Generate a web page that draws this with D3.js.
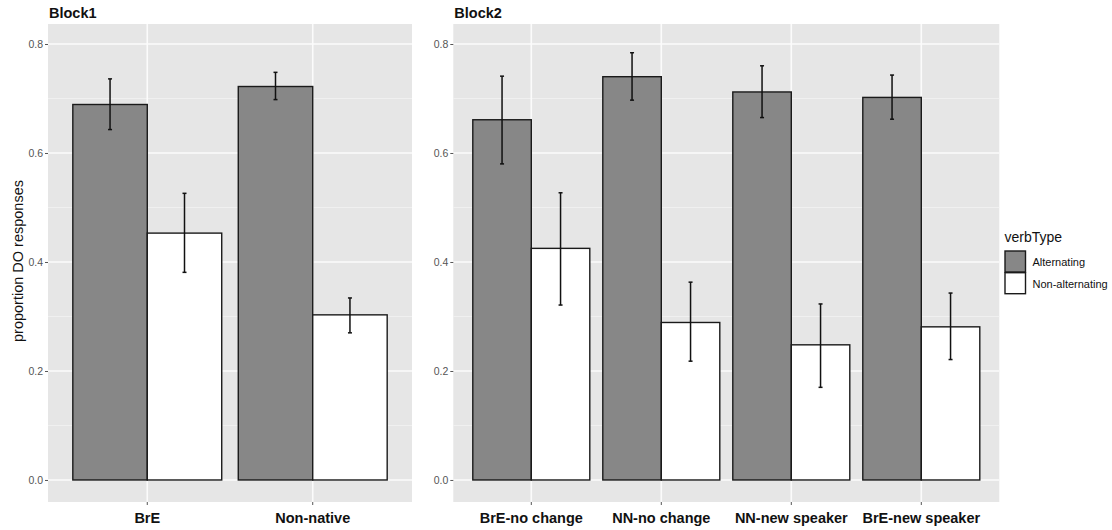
<!DOCTYPE html>
<html lang="en">
<head>
<meta charset="utf-8">
<title>proportion DO responses</title>
<script src="https://d3js.org/d3.v7.min.js"></script>
<style type="text/css">
    body { margin: 0; background: #fff; }
    svg { font-family: "Liberation Sans", Arial, sans-serif; display: block; }
    .tick-label { fill: #555; font-size: 10.5px; }
    .cat-label { fill: #111; font-size: 14.5px; font-weight: bold; }
    .panel-title { fill: #111; font-size: 14.5px; font-weight: bold; }
</style>
</head>
<body>
<script>

// data
let verbTypes = ["Alternating", "Non-alternating"];

let block1Cats = ["BrE", "Non-native"];
let block1Alt = [0.689, 0.722];
let block1AltLo = [0.643, 0.698];
let block1AltHi = [0.736, 0.748];
let block1Non = [0.453, 0.303];
let block1NonLo = [0.381, 0.270];
let block1NonHi = [0.526, 0.334];

let block2Cats = ["BrE-no change", "NN-no change", "NN-new speaker", "BrE-new speaker"];
let block2Alt = [0.661, 0.740, 0.712, 0.702];
let block2AltLo = [0.580, 0.697, 0.665, 0.662];
let block2AltHi = [0.741, 0.784, 0.760, 0.743];
let block2Non = [0.425, 0.289, 0.248, 0.281];
let block2NonLo = [0.321, 0.218, 0.170, 0.221];
let block2NonHi = [0.527, 0.363, 0.323, 0.343];

let yTicks = [0, 0.2, 0.4, 0.6, 0.8];
let yMinor = [0.1, 0.3, 0.5, 0.7];

let fills = { "Alternating": "#878787", "Non-alternating": "#ffffff" };

let W = 1112, H = 530;
let plotTop = 24, plotBottom = 502;

let svg = d3.select("body").append("svg")
    .attr("width", W)
    .attr("height", H);

// shared y scale
let yScale = d3.scaleLinear()
    .domain([-0.0404, 0.8367])
    .range([plotBottom, plotTop]);

function buildRows(cats, alt, altLo, altHi, non, nonLo, nonHi) {
    let rows = [];
    cats.forEach((c, i) => {
        rows.push({ cat: c, type: verbTypes[0], v: alt[i], lo: altLo[i], hi: altHi[i] });
        rows.push({ cat: c, type: verbTypes[1], v: non[i], lo: nonLo[i], hi: nonHi[i] });
    });
    return rows;
}

function drawPanel(x0, x1, title, cats, rows) {
    let g = svg.append("g");

    let xScale = d3.scaleBand()
        .domain(cats)
        .range([x0, x1])
        .paddingInner(0.1)
        .paddingOuter(0.15);

    let xInner = d3.scaleBand()
        .domain(verbTypes)
        .range([0, xScale.bandwidth()]);

    // background
    g.append("rect")
        .attr("x", x0).attr("y", plotTop)
        .attr("width", x1 - x0).attr("height", plotBottom - plotTop)
        .attr("fill", "#e6e6e6");

    // grid lines
    g.selectAll(".minor").data(yMinor).enter().append("line")
        .attr("x1", x0).attr("x2", x1)
        .attr("y1", d => yScale(d)).attr("y2", d => yScale(d))
        .attr("stroke", "#f2f2f2").attr("stroke-width", 0.8);
    g.selectAll(".major").data(yTicks).enter().append("line")
        .attr("x1", x0).attr("x2", x1)
        .attr("y1", d => yScale(d)).attr("y2", d => yScale(d))
        .attr("stroke", "#fbfbfb").attr("stroke-width", 1.6);
    g.selectAll(".vgrid").data(cats).enter().append("line")
        .attr("x1", d => xScale(d) + xScale.bandwidth() / 2)
        .attr("x2", d => xScale(d) + xScale.bandwidth() / 2)
        .attr("y1", plotTop).attr("y2", plotBottom)
        .attr("stroke", "#fbfbfb").attr("stroke-width", 1.6);

    // bars
    g.selectAll(".bar").data(rows).enter().append("rect")
        .attr("x", d => xScale(d.cat) + xInner(d.type))
        .attr("y", d => yScale(d.v))
        .attr("width", xInner.bandwidth())
        .attr("height", d => yScale(0) - yScale(d.v))
        .attr("fill", d => fills[d.type])
        .attr("stroke", "#1a1a1a")
        .attr("stroke-width", 1.4);

    // error bars
    let cx = d => xScale(d.cat) + xInner(d.type) + xInner.bandwidth() / 2;
    let eb = g.selectAll(".err").data(rows).enter().append("g")
        .attr("stroke", "#111").attr("stroke-width", 1.5);
    eb.append("line")
        .attr("x1", cx).attr("x2", cx)
        .attr("y1", d => yScale(d.lo)).attr("y2", d => yScale(d.hi));
    eb.append("line")
        .attr("x1", d => cx(d) - 2).attr("x2", d => cx(d) + 2)
        .attr("y1", d => yScale(d.lo)).attr("y2", d => yScale(d.lo));
    eb.append("line")
        .attr("x1", d => cx(d) - 2).attr("x2", d => cx(d) + 2)
        .attr("y1", d => yScale(d.hi)).attr("y2", d => yScale(d.hi));

    // y axis
    let yAxis = d3.axisLeft(yScale)
        .tickValues(yTicks)
        .tickFormat(d3.format(".1f"))
        .tickSize(3)
        .tickPadding(2);
    let ya = g.append("g")
        .attr("transform", "translate(" + x0 + ",0)")
        .call(yAxis);
    ya.select(".domain").remove();
    ya.selectAll(".tick line").attr("stroke", "#555");
    ya.selectAll(".tick text").attr("class", "tick-label").attr("font-family", null).attr("font-size", null);

    // x axis
    let xAxis = d3.axisBottom(xScale)
        .tickSize(3)
        .tickPadding(8);
    let xa = g.append("g")
        .attr("transform", "translate(0," + plotBottom + ")")
        .call(xAxis);
    xa.select(".domain").remove();
    xa.selectAll(".tick line").attr("stroke", "#555");
    xa.selectAll(".tick text").attr("class", "cat-label").attr("font-family", null).attr("font-size", null);

    // title
    g.append("text")
        .attr("class", "panel-title")
        .attr("x", x0 + 1)
        .attr("y", 18)
        .text(title);
}

drawPanel(48, 412, "Block1", block1Cats,
    buildRows(block1Cats, block1Alt, block1AltLo, block1AltHi, block1Non, block1NonLo, block1NonHi));
drawPanel(453.3, 999.3, "Block2", block2Cats,
    buildRows(block2Cats, block2Alt, block2AltLo, block2AltHi, block2Non, block2NonLo, block2NonHi));

// y axis title
svg.append("text")
    .attr("transform", "translate(23," + 261 + ") rotate(-90)")
    .attr("text-anchor", "middle")
    .attr("font-size", "14.5px")
    .attr("fill", "#111")
    .text("proportion DO responses");

// legend
let legend = svg.append("g").attr("transform", "translate(1004.5,0)");
legend.append("text")
    .attr("x", 0).attr("y", 242)
    .attr("font-size", "14px")
    .attr("fill", "#111")
    .text("verbType");
let keys = legend.selectAll(".key").data(verbTypes).enter().append("g")
    .attr("transform", (d, i) => "translate(0," + (251 + i * 21.7) + ")");
keys.append("rect")
    .attr("x", 0.5).attr("y", 0)
    .attr("width", 20.5).attr("height", 21)
    .attr("fill", d => fills[d])
    .attr("stroke", "#1a1a1a")
    .attr("stroke-width", 1.4);
keys.append("text")
    .attr("x", 28).attr("y", 11)
    .attr("dy", "0.35em")
    .attr("font-size", "11px")
    .attr("fill", "#111")
    .text(d => d);

</script>
</body>
</html>
